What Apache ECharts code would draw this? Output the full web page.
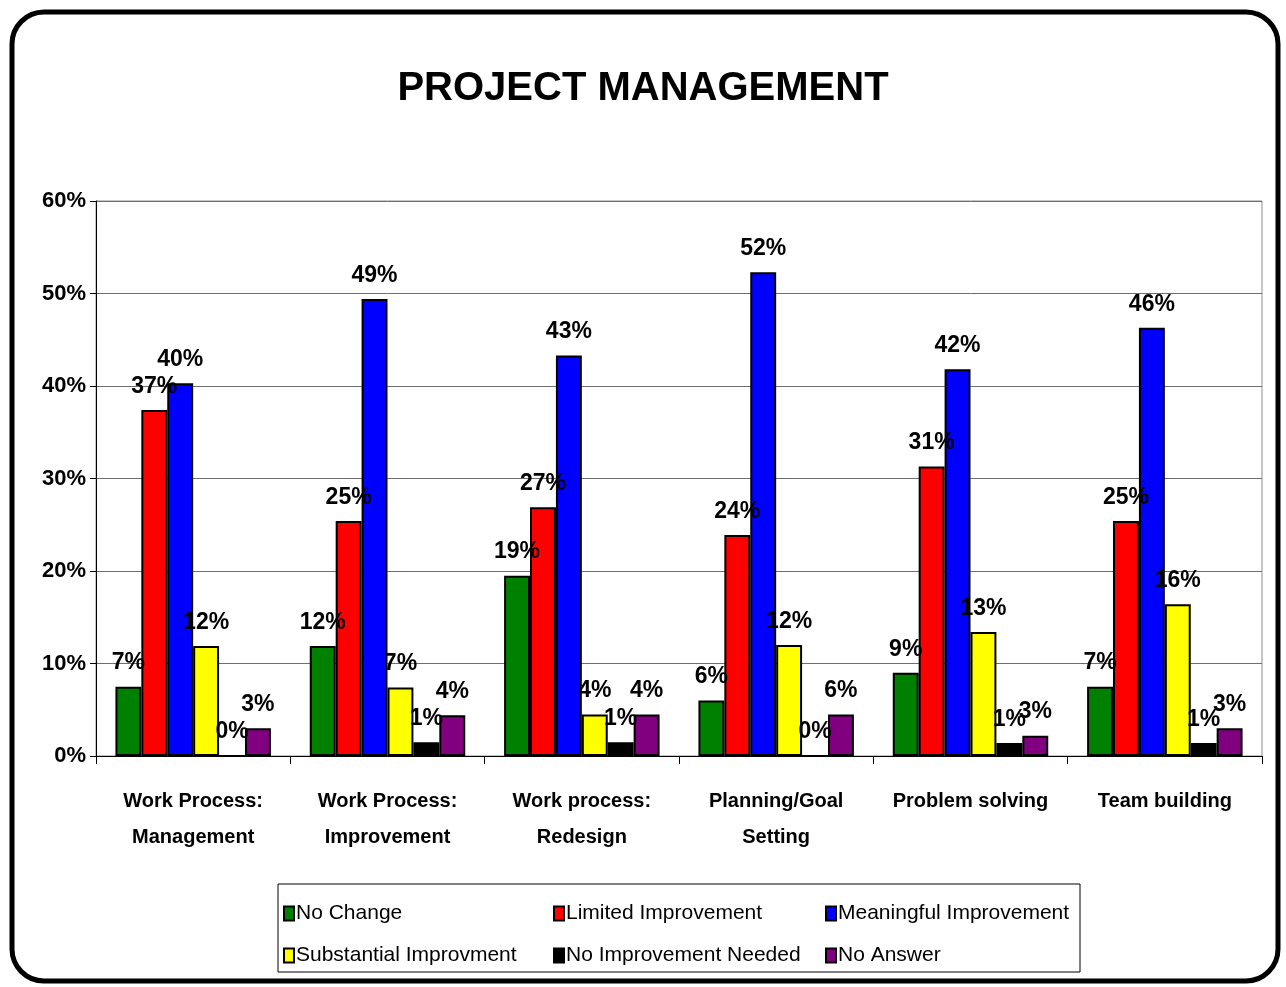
<!DOCTYPE html>
<html>
<head>
<meta charset="utf-8">
<title>Project Management</title>
<script src="https://cdn.jsdelivr.net/npm/echarts@6/dist/echarts.min.js"></script>
<style>
  html, body { margin: 0; padding: 0; background: #fff; }
  #chart { width: 1286px; height: 987px; }
</style>
</head>
<body>
<div id="chart"></div>
<script>
const categories = [
  'Work Process:\nManagement',
  'Work Process:\nImprovement',
  'Work process:\nRedesign',
  'Planning/Goal\nSetting',
  'Problem solving',
  'Team building'
];

const seriesNames = [
  'No Change',
  'Limited Improvement',
  'Meaningful Improvement',
  'Substantial Improvment',
  'No Improvement Needed',
  'No Answer'
];

// bar heights (percent)
const noChange = [7.5, 11.9, 19.5, 6.0, 9.0, 7.5];
const limitedImprovement = [37.4, 25.4, 26.9, 23.9, 31.3, 25.4];
const meaningfulImprovement = [40.3, 49.4, 43.3, 52.3, 41.8, 46.3];
const substantialImprovment = [11.9, 7.4, 4.5, 12.0, 13.4, 16.4];
const noImprovementNeeded = [0, 1.5, 1.5, 0, 1.4, 1.4];
const noAnswer = [3.0, 4.4, 4.5, 4.5, 2.2, 3.0];

// printed data labels
const noChangeLabels = ['7%', '12%', '19%', '6%', '9%', '7%'];
const limitedLabels = ['37%', '25%', '27%', '24%', '31%', '25%'];
const meaningfulLabels = ['40%', '49%', '43%', '52%', '42%', '46%'];
const substantialLabels = ['12%', '7%', '4%', '12%', '13%', '16%'];
const notNeededLabels = ['0%', '1%', '1%', '0%', '1%', '1%'];
const noAnswerLabels = ['3%', '4%', '4%', '6%', '3%', '3%'];

const yTicks = [0, 10, 20, 30, 40, 50, 60];

const colors = ['#008000', '#ff0000', '#0000ff', '#ffff00', '#000000', '#800080'];
const values = [noChange, limitedImprovement, meaningfulImprovement, substantialImprovment, noImprovementNeeded, noAnswer];
const labels = [noChangeLabels, limitedLabels, meaningfulLabels, substantialLabels, notNeededLabels, noAnswerLabels];

const font = "Arial, 'Liberation Sans', sans-serif";

const chart = echarts.init(document.getElementById('chart'));

const series = seriesNames.map((name, i) => ({
  name: name,
  type: 'bar',
  data: values[i],
  barGap: '0%',
  barCategoryGap: '20%',
  itemStyle: {
    color: colors[i],
    borderColor: '#000',
    borderWidth: 2
  },
  label: {
    show: true,
    position: 'top',
    distance: 12,
    color: '#000',
    fontFamily: font,
    fontWeight: 'bold',
    fontSize: 23,
    formatter: (p) => labels[i][p.dataIndex]
  }
}));

const legendBase = {
  orient: 'vertical',
  itemWidth: 10,
  itemHeight: 14,
  itemGap: 21,
  icon: 'rect',
  top: 898,
  textStyle: { fontFamily: font, fontSize: 21, color: '#000', padding: [0, 0, 0, -3] },
  itemStyle: { borderColor: '#000', borderWidth: 2 }
};

const option = {
  animation: false,
  backgroundColor: '#fff',
  color: colors,
  title: {
    text: 'PROJECT MANAGEMENT',
    left: 'center',
    top: 64,
    textStyle: { fontFamily: font, fontWeight: 'bold', fontSize: 40, color: '#000' }
  },
  grid: {
    left: 96,
    right: 24,
    top: 201,
    bottom: 231,
    show: true,
    borderColor: '#8c8c8c',
    borderWidth: 1
  },
  legend: [
    Object.assign({}, legendBase, { left: 278, data: [seriesNames[0], seriesNames[3]] }),
    Object.assign({}, legendBase, { left: 548, data: [seriesNames[1], seriesNames[4]] }),
    Object.assign({}, legendBase, { left: 820, data: [seriesNames[2], seriesNames[5]] })
  ],
  xAxis: {
    type: 'category',
    data: categories,
    axisLine: { lineStyle: { color: '#000', width: 1 } },
    axisTick: { show: true, length: 8, lineStyle: { color: '#000' } },
    axisLabel: {
      interval: 0,
      margin: 27,
      color: '#000',
      fontFamily: font,
      fontWeight: 'bold',
      fontSize: 20,
      lineHeight: 36
    }
  },
  yAxis: {
    type: 'value',
    min: yTicks[0],
    max: yTicks[yTicks.length - 1],
    interval: 10,
    axisLine: { show: true, lineStyle: { color: '#000', width: 1 } },
    axisTick: { show: true, length: 6, lineStyle: { color: '#000' } },
    splitLine: { lineStyle: { color: '#6e6e6e', width: 1 } },
    axisLabel: {
      margin: 10,
      color: '#000',
      fontFamily: font,
      fontWeight: 'bold',
      fontSize: 22,
      formatter: '{value}%'
    }
  },
  graphic: [
    {
      type: 'rect',
      shape: { x: 12, y: 12, width: 1266, height: 969, r: 32 },
      style: { fill: 'none', stroke: '#000', lineWidth: 5 },
      silent: true
    },
    {
      type: 'rect',
      shape: { x: 278, y: 884, width: 802, height: 88 },
      style: { fill: 'none', stroke: '#000', lineWidth: 1 },
      silent: true
    }
  ],
  series: series
};

chart.setOption(option);
</script>
</body>
</html>
